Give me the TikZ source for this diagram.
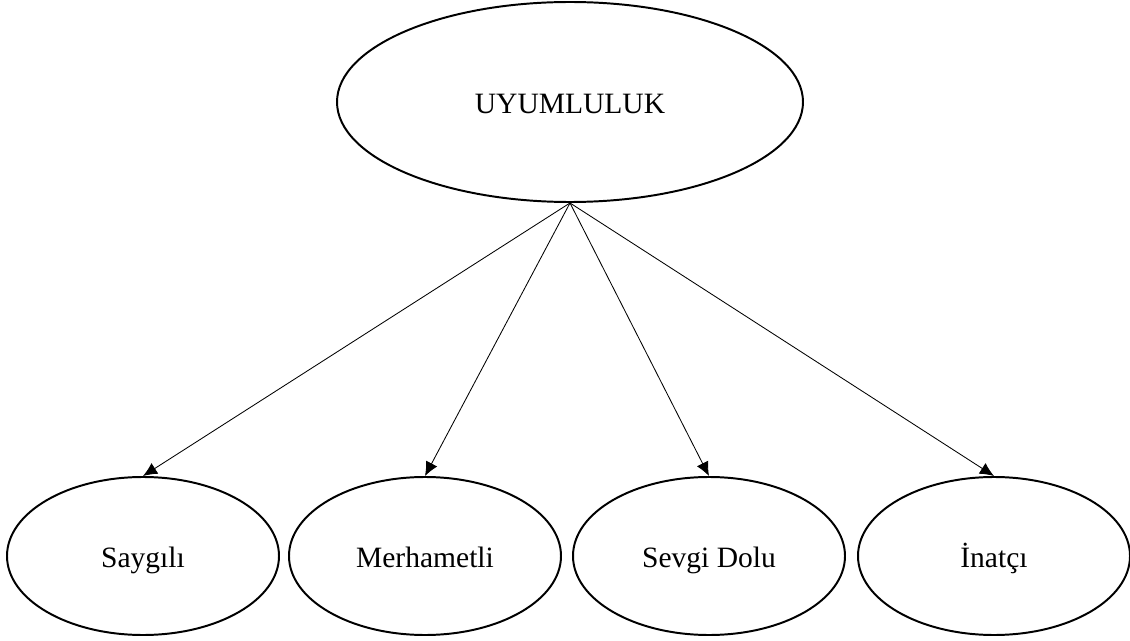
\documentclass[tikz,border=0pt]{standalone}
\usepackage{fontspec}
\setmainfont{Liberation Serif}
\usetikzlibrary{shapes.geometric, arrows.meta}

\tikzset{
  oval/.style={draw, ellipse, line width=1.4pt, inner sep=0pt, text height=16pt, text depth=0pt,
    font=\fontsize{21}{25}\selectfont},
  trait/.style={oval, minimum width=6.8cm, minimum height=3.95cm}
}

\begin{document}
\begin{tikzpicture}[>={Latex[length=10pt, width=9pt]}, semithick]
            \useasboundingbox (0, 0) rectangle (28.25, -16.025);
            \node[oval, minimum width=11.65cm, minimum height=5cm] (uyum) at (14.25, -2.55) {UYUMLULUK};
            \node[trait] (saygili) at (3.575, -13.9) {Saygılı};
            \node[trait] (merhamet) at (10.625, -13.9) {Merhametli};
            \node[trait] (sevgi) at (17.725, -13.9) {Sevgi Dolu};
            \node[trait] (inatci) at (24.85, -13.9) {İnatçı};
            \draw[->, line width=0.6pt] (uyum.south) -- (saygili.north);
            \draw[->, line width=0.6pt] (uyum.south) -- (merhamet.north);
            \draw[->, line width=0.6pt] (uyum.south) -- (sevgi.north);
            \draw[->, line width=0.6pt] (uyum.south) -- (inatci.north);
        \end{tikzpicture}
\end{document}
